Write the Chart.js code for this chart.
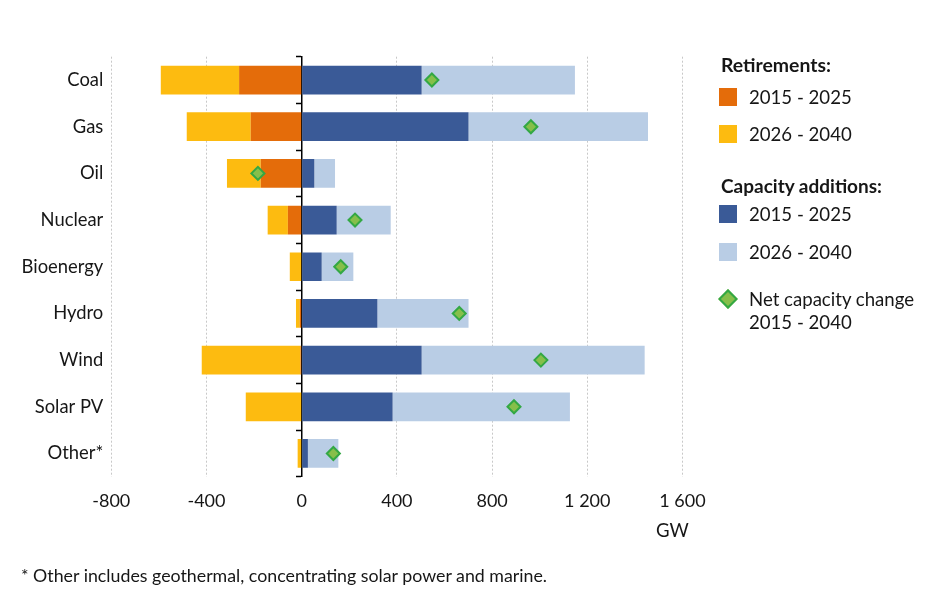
<!DOCTYPE html>
<html>
<head>
<meta charset="utf-8">
<script src="https://cdn.jsdelivr.net/npm/chart.js@4"></script>
<style>
  html, body { margin: 0; padding: 0; background: #fff; }
  #wrap { position: relative; width: 935px; height: 590px; font-family: Lato, "Open Sans", sans-serif; color: #161616; }
  canvas { position: absolute; left: 0; top: 0; }
  .t { position: absolute; white-space: nowrap; font-size: 18.6px; line-height: 20px; }
  .b { font-weight: bold; }
  .sw { position: absolute; width: 18px; height: 18px; }
  .dia { position: absolute; width: 10px; height: 10px; transform: rotate(45deg); background: #86bf4a; border: 2px solid #33a844; }
</style>
</head>
<body>
<div id="wrap">
  <canvas id="c" width="935" height="590"></canvas>
  <div class="t b" style="left:721px; top:55px; font-size:19.4px;">Retirements:</div>
  <div class="sw" style="left:719px; top:88px; background:#E46C0A;"></div>
  <div class="t" style="left:749px; top:87px;">2015 - 2025</div>
  <div class="sw" style="left:719px; top:125px; background:#FDBB10;"></div>
  <div class="t" style="left:749px; top:124px;">2026 - 2040</div>
  <div class="t b" style="left:721px; top:176px; font-size:19px;">Capacity additions:</div>
  <div class="sw" style="left:719px; top:205px; background:#3A5A97;"></div>
  <div class="t" style="left:749px; top:204px;">2015 - 2025</div>
  <div class="sw" style="left:719px; top:243px; background:#B9CDE5;"></div>
  <div class="t" style="left:749px; top:242px;">2026 - 2040</div>
  <div class="dia" style="left:721px; top:292px;"></div>
  <div class="t" style="left:749px; top:289px;">Net capacity change</div>
  <div class="t" style="left:749px; top:312px;">2015 - 2040</div>
  <div class="t" style="left:656px; top:520px;">GW</div>
  <div class="t" style="left:21px; top:565px; font-size:17.8px;">* Other includes geothermal, concentrating solar power and marine.</div>
</div>
<script>
const categories = ['Coal', 'Gas', 'Oil', 'Nuclear', 'Bioenergy', 'Hydro', 'Wind', 'Solar PV', 'Other*'];
const retirements2015_2025 = [-263, -214, -172, -58, 0, -8, -5, 0, 0];
const retirements2026_2040 = [-329, -269, -142, -85, -50, -16, -415, -235, -17];
const additions2015_2025 = [504, 701, 53, 147, 84, 318, 504, 382, 26];
const additions2026_2040 = [644, 754, 87, 227, 133, 383, 937, 745, 128];
const netChange2015_2040 = [547, 963, -184, 224, 164, 662, 1005, 892, 133];
const xTicks = [-800, -400, 0, 400, 800, 1200, 1600];

const FONT = 'Lato, "Open Sans", sans-serif';
const TXT = '#161616';

function fmt(v) {
  const s = String(Math.abs(v));
  const withSpace = s.length > 3 ? s.slice(0, s.length - 3) + ' ' + s.slice(-3) : s;
  return (v < 0 ? '-' : '') + withSpace;
}

const barCommon = { stack: 'cap', order: 1, categoryPercentage: 1, barPercentage: 0.615, borderWidth: 0, yAxisID: 'y' };

new Chart(document.getElementById('c'), {
  data: {
    labels: categories,
    datasets: [
      Object.assign({ type: 'bar', label: 'Retirements 2015 - 2025', data: retirements2015_2025, backgroundColor: '#E46C0A' }, barCommon),
      Object.assign({ type: 'bar', label: 'Retirements 2026 - 2040', data: retirements2026_2040, backgroundColor: '#FDBB10' }, barCommon),
      Object.assign({ type: 'bar', label: 'Capacity additions 2015 - 2025', data: additions2015_2025, backgroundColor: '#3A5A97' }, barCommon),
      Object.assign({ type: 'bar', label: 'Capacity additions 2026 - 2040', data: additions2026_2040, backgroundColor: '#B9CDE5' }, barCommon),
      {
        type: 'line', label: 'Net capacity change 2015 - 2040', data: netChange2015_2040,
        stack: 'net', order: 0, showLine: false, yAxisID: 'y',
        pointStyle: 'rectRot', pointRadius: 6.5, pointBorderWidth: 2,
        pointBackgroundColor: '#86bf4a', pointBorderColor: '#33a844'
      }
    ]
  },
  options: {
    indexAxis: 'y',
    responsive: false,
    animation: false,
    events: [],
    layout: { padding: { top: 56.7, right: 252.5, left: 0, bottom: 0 } },
    plugins: { legend: { display: false }, tooltip: { enabled: false } },
    scales: {
      x: {
        type: 'linear', stacked: true, min: -800, max: 1600,
        afterBuildTicks: s => { s.ticks = xTicks.map(v => ({ value: v })); },
        afterFit: s => { s.height = 113.2; },
        ticks: { callback: v => fmt(v), font: { family: FONT, size: 18 }, color: TXT, padding: 14, maxRotation: 0 },
        grid: {
          drawTicks: false,
          color: ctx => (ctx.tick && ctx.tick.value === 0) ? 'rgba(0,0,0,0)' : '#c8c8c8',
          lineWidth: 1
        },
        border: { display: false, dash: [2, 2] }
      },
      y: {
        type: 'category', stacked: true, position: 'left',
        afterFit: s => { s.width = 111.3; },
        ticks: { font: { family: FONT, size: 18.4 }, color: TXT, padding: 8 },
        grid: { display: false, drawTicks: false },
        border: { display: false }
      },
      y2: {
        type: 'category', position: { x: 0 }, offset: true,
        ticks: { display: false },
        grid: { drawOnChartArea: false, drawTicks: true, tickLength: 5, tickWidth: 1.5, tickColor: '#000', offset: true },
        border: { display: true, color: '#000', width: 1.5 }
      }
    }
  }
});
</script>
</body>
</html>
